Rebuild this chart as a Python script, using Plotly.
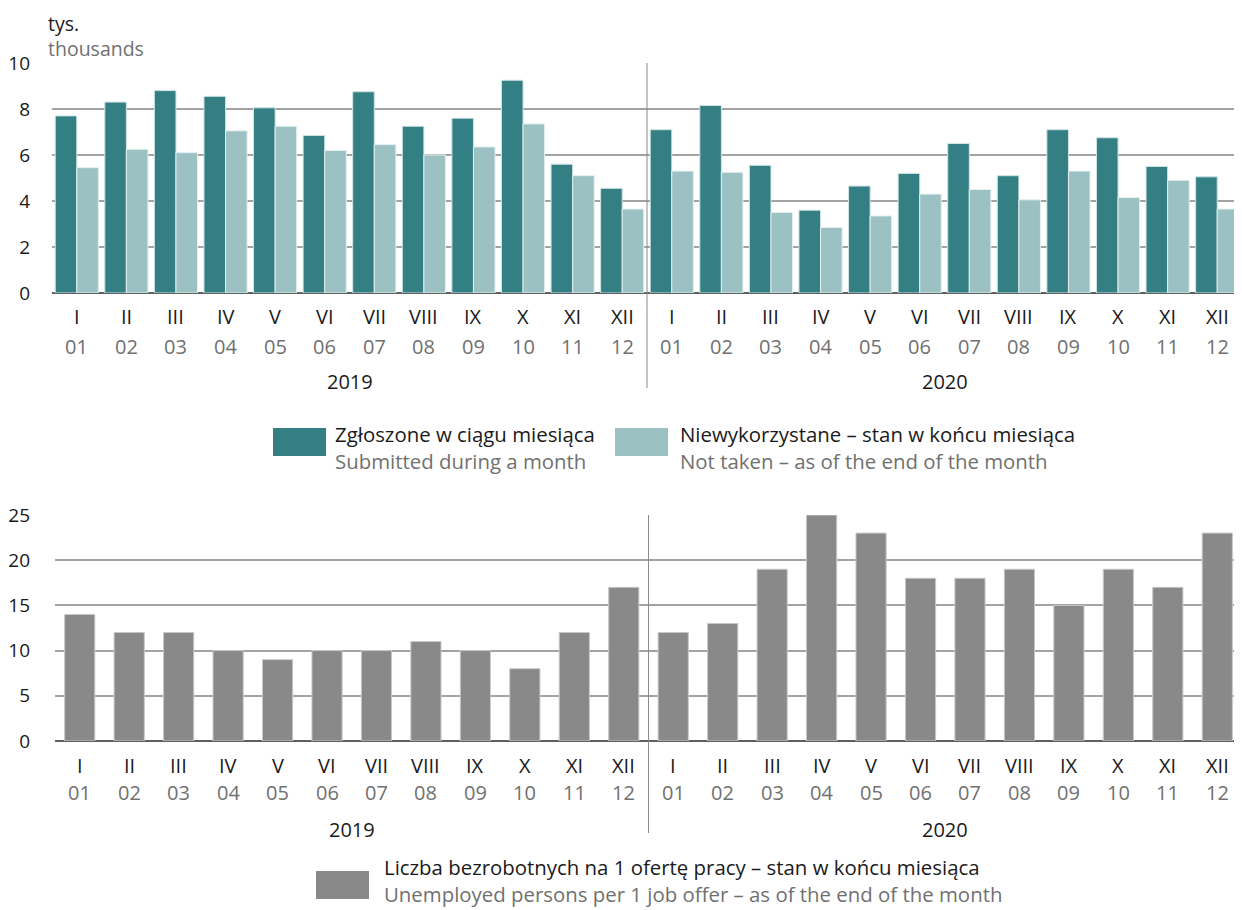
import plotly.graph_objects as go

# browser body margin (8 px) compensation
OFF = 8
W, H = 1242 - OFF, 910 - OFF

def X(px):
    return (px - OFF) / W

def Y(py):
    return 1 - (py - OFF) / H

# ---------------- data ----------------
years = ["2019", "2020"]
month_roman = ["I", "II", "III", "IV", "V", "VI", "VII", "VIII", "IX", "X", "XI", "XII"]
month_nums = ["01", "02", "03", "04", "05", "06", "07", "08", "09", "10", "11", "12"]
categories = [f"{y}-{m}" for y in years for m in month_nums]
tick_roman = month_roman * 2
tick_nums = month_nums * 2

submitted = [7.7, 8.3, 8.8, 8.55, 8.05, 6.85, 8.75, 7.25, 7.6, 9.25, 5.6, 4.55,
             7.1, 8.15, 5.55, 3.6, 4.65, 5.2, 6.5, 5.1, 7.1, 6.75, 5.5, 5.05]
not_taken = [5.45, 6.25, 6.1, 7.05, 7.25, 6.2, 6.45, 6.0, 6.35, 7.35, 5.1, 3.65,
             5.3, 5.25, 3.5, 2.85, 3.35, 4.3, 4.5, 4.05, 5.3, 4.15, 4.9, 3.65]
unemployed_per_offer = [14, 12, 12, 10, 9, 10, 10, 11, 10, 8, 12, 17,
                        12, 13, 19, 25, 23, 18, 18, 19, 15, 19, 17, 23]

names_pl = ["Zgłoszone w ciągu miesiąca", "Niewykorzystane – stan w końcu miesiąca",
            "Liczba bezrobotnych na 1 ofertę pracy – stan w końcu miesiąca"]
names_en = ["Submitted during a month", "Not taken – as of the end of the month",
            "Unemployed persons per 1 job offer – as of the end of the month"]
unit_pl, unit_en = "tys.", "thousands"

# ---------------- style ----------------
FONT = "Open Sans"
FS = 20
FS_Y = 19
FS_LEG = 20.4
BLACK = "#1a1a1a"
GREY_TXT = "#707070"
C_DARK = "#337f84"
C_LIGHT = "#9bc1c3"
C_GREY = "#898989"
GRID = "#a3a3a3"
BASE = "#5f5f5f"

fig = go.Figure()

fig.add_trace(go.Bar(x=categories, y=submitted, name=names_pl[0], marker_color=C_DARK,
                     marker_line=dict(color="#cfe3e4", width=1), xaxis="x", yaxis="y",
                     showlegend=False))
fig.add_trace(go.Bar(x=categories, y=not_taken, name=names_pl[1], marker_color=C_LIGHT,
                     marker_line=dict(color="#e3eff0", width=1), xaxis="x", yaxis="y",
                     showlegend=False))
fig.add_trace(go.Bar(x=categories, y=unemployed_per_offer, name=names_pl[2], marker_color=C_GREY,
                     marker_line=dict(color="#c8c8c8", width=1), xaxis="x2", yaxis="y2",
                     showlegend=False, width=0.61))

axis_common = dict(type="category", categoryorder="array", categoryarray=categories,
                   range=[-0.5, 23.5], showgrid=False, zeroline=False, showline=False,
                   ticks="", showticklabels=False, automargin=False)

yaxis_common = dict(showgrid=True, gridcolor=GRID, gridwidth=1.5, zeroline=True,
                    zerolinecolor=BASE, zerolinewidth=2, showline=False, ticks="",
                    automargin=False,
                    tickfont=dict(family=FONT, size=FS_Y, color=BLACK))

fig.update_layout(
    width=W, height=H,
    margin=dict(l=0, r=0, t=0, b=0, autoexpand=False),
    paper_bgcolor="white", plot_bgcolor="white",
    font=dict(family=FONT, size=FS, color=BLACK),
    barmode="group", bargap=0.13, bargroupgap=0.0,
    showlegend=False,
    xaxis=dict(domain=[X(52), 1], anchor="y", **axis_common),
    yaxis=dict(domain=[Y(293), Y(63)], anchor="x", range=[0, 10], dtick=2,
               ticklabelstandoff=21, **yaxis_common),
    xaxis2=dict(domain=[X(55), 1], anchor="y2", **axis_common),
    yaxis2=dict(domain=[Y(741), Y(515)], anchor="x2", range=[0, 25], dtick=5,
                ticklabelstandoff=24, **yaxis_common),
)

annotations = []
shapes = []

# month labels (roman + numbers) and years
for xa, y_rom, y_num, y_year in (("x", 317, 346, 382), ("x2", 765, 792, 829)):
    for c, r, t in zip(categories, tick_roman, tick_nums):
        annotations.append(dict(x=c, xref=xa, y=Y(y_rom), yref="paper", text=r, showarrow=False,
                                xanchor="center", yanchor="middle",
                                font=dict(family=FONT, size=FS, color=BLACK)))
        annotations.append(dict(x=c, xref=xa, y=Y(y_num), yref="paper", text=t, showarrow=False,
                                xanchor="center", yanchor="middle",
                                font=dict(family=FONT, size=FS, color=GREY_TXT)))
    for i, yr in enumerate(years):
        annotations.append(dict(x=i * 12 + 5.5, xref=xa, y=Y(y_year), yref="paper", text=yr,
                                showarrow=False, xanchor="center", yanchor="middle",
                                font=dict(family=FONT, size=FS, color=BLACK)))

# year dividers
shapes.append(dict(type="line", xref="x", x0=11.5, x1=11.5, yref="paper", y0=Y(388), y1=Y(63),
                   line=dict(color="#8a8a8a", width=1)))
shapes.append(dict(type="line", xref="x2", x0=11.5, x1=11.5, yref="paper", y0=Y(833), y1=Y(515),
                   line=dict(color="#8a8a8a", width=1)))

# unit label (two lines)
annotations.append(dict(x=X(46), y=Y(8), xref="paper", yref="paper",
                        text=f"{unit_pl}<br><span style='color:{GREY_TXT}'>{unit_en}</span>",
                        showarrow=False, xanchor="left", yanchor="top", align="left",
                        font=dict(family=FONT, size=19.5, color=BLACK)))

# legends (manual)
legend_items = [
    (C_DARK, 273, 428, 333, 447, "middle", names_pl[0], names_en[0]),
    (C_LIGHT, 615, 428, 678, 447, "middle", names_pl[1], names_en[1]),
    (C_GREY, 316, 871, 382, 910, "bottom", names_pl[2], names_en[2]),
]
for col, sx, sy, tx, ty, anc, pl, en in legend_items:
    shapes.append(dict(type="rect", xref="paper", yref="paper", x0=X(sx), x1=X(sx + 53),
                       y0=Y(sy + 28), y1=Y(sy), fillcolor=col, line=dict(width=0)))
    annotations.append(dict(x=X(tx), y=Y(ty), xref="paper", yref="paper",
                            text=f"{pl}<br><span style='color:{GREY_TXT}'>{en}</span>",
                            showarrow=False, xanchor="left", yanchor=anc, align="left",
                            font=dict(family=FONT, size=FS_LEG, color=BLACK)))

fig.update_layout(annotations=annotations, shapes=shapes)

fig.write_html("out.html")
